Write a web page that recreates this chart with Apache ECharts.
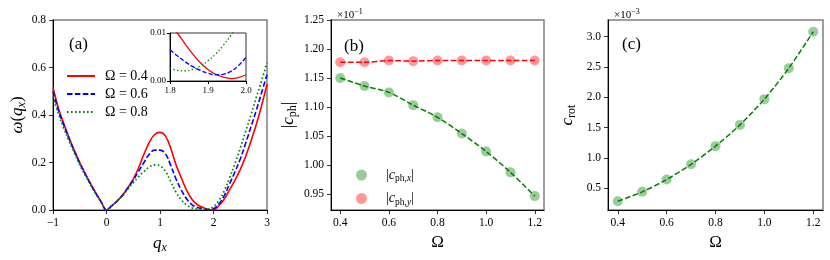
<!DOCTYPE html>
<html><head><meta charset="utf-8">
<script src="https://cdn.jsdelivr.net/npm/echarts@6/dist/echarts.min.js"></script>
<style>html,body{margin:0;padding:0;background:#fff}#c{width:830px;height:260px}</style>
</head><body><div id="c"></div><script>
// ---------- data: panel (a) ----------
const qx = [-1.0,-0.9,-0.8,-0.7,-0.6,-0.5,-0.4,-0.3,-0.2,-0.1,0.0,0.1,0.2,0.3,0.4,0.5,0.6,0.7,0.8,0.9,1.0,1.1,1.2,1.3,1.4,1.5,1.6,1.7,1.8,1.9,2.0,2.1,2.2,2.3,2.4,2.5,2.6,2.7,2.8,2.9,3.0];
const omega04 = [0.517,0.43,0.365,0.305,0.25,0.2,0.155,0.112,0.072,0.035,0,0.018,0.038,0.063,0.095,0.13,0.178,0.235,0.285,0.318,0.327,0.312,0.26,0.19,0.135,0.082,0.044,0.022,0.012,0.0024,0.0013,0.018,0.045,0.085,0.125,0.17,0.225,0.29,0.36,0.44,0.53];
const omega06 = [0.50,0.42,0.358,0.3,0.247,0.197,0.152,0.11,0.07,0.034,0,0.018,0.038,0.062,0.093,0.125,0.163,0.2,0.235,0.252,0.252,0.237,0.188,0.13,0.083,0.046,0.022,0.011,0.0065,0.0016,0.0049,0.025,0.06,0.11,0.16,0.215,0.28,0.35,0.42,0.495,0.57];
const omega08 = [0.477,0.405,0.345,0.29,0.24,0.19,0.147,0.106,0.068,0.033,0,0.018,0.037,0.06,0.088,0.115,0.14,0.162,0.181,0.19,0.186,0.164,0.12,0.075,0.042,0.021,0.009,0.004,0.0027,0.0042,0.014,0.04,0.08,0.135,0.195,0.26,0.33,0.4,0.475,0.545,0.62];
const legendA = ['Ω = 0.4','Ω = 0.6','Ω = 0.8'];
// inset
const qInset = [1.80,1.82,1.84,1.86,1.88,1.90,1.92,1.94,1.96,1.98,2.00];
const inset04 = [0.0118,0.0099,0.0077,0.0056,0.0038,0.0024,0.0014,0.0008,0.0005,0.0007,0.0013];
const inset06 = [0.0065,0.0052,0.0040,0.0030,0.0022,0.0016,0.0013,0.0014,0.0020,0.0032,0.0049];
const inset08 = [0.0027,0.0022,0.0021,0.0024,0.0031,0.0042,0.0056,0.0074,0.0095,0.0118,0.0140];
// ---------- data: panel (b) ----------
const OmegaB = [0.4,0.5,0.6,0.7,0.8,0.9,1.0,1.1,1.2];
const cphx = [1.150,1.136,1.125,1.103,1.082,1.054,1.023,0.987,0.946];
const cphy = [1.177,1.177,1.180,1.179,1.180,1.180,1.180,1.180,1.180];
const ticksB = [0.95,1.00,1.05,1.10,1.15,1.20,1.25];
// ---------- data: panel (c) ----------
const OmegaC = [0.4,0.5,0.6,0.7,0.8,0.9,1.0,1.1,1.2];
const crot = [0.29,0.444,0.647,0.897,1.196,1.546,1.97,2.48,3.08];
const ticksC = [0.5,1.0,1.5,2.0,2.5,3.0];
const ticksOmega = [0.4,0.6,0.8,1.0,1.2];

const pairs = (xs, ys) => xs.map((x,i)=>[x, ys[i]]);
const SERIF = 'Liberation Serif';
const GREEN = '#008000', RED = '#ff0000', BLUE = '#0000ff';
const fmtMinus = v => (v<0 ? '\u2212' : '') + Math.abs(v);
const TICKFS = 11.5;

function axisBase(extra){
  return Object.assign({
    type:'value',
    axisLine:{show:true,onZero:false,lineStyle:{color:'#000',width:1}},
    axisTick:{show:true,inside:false,length:4,lineStyle:{color:'#000',width:0.8}},
    axisLabel:{color:'#000',fontFamily:SERIF,fontSize:TICKFS,margin:7},
    splitLine:{show:false}
  }, extra);
}
const lab = (extra) => Object.assign({color:'#000',fontFamily:SERIF,fontSize:TICKFS,margin:7}, extra);
const rich = {
  i:{fontFamily:SERIF,fontStyle:'italic',fontSize:17,color:'#000'},
  n:{fontFamily:SERIF,fontSize:17,color:'#000'},
  s:{fontFamily:SERIF,fontSize:12,color:'#000',padding:[9,0,0,0]},
  si:{fontFamily:SERIF,fontStyle:'italic',fontSize:12,color:'#000',padding:[9,0,0,0]}
};
const richSmall = {
  n:{fontFamily:SERIF,fontSize:14,color:'#000'},
  i:{fontFamily:SERIF,fontStyle:'italic',fontSize:14,color:'#000'},
  s:{fontFamily:SERIF,fontSize:9.5,color:'#000',padding:[7,0,0,0]},
  si:{fontFamily:SERIF,fontStyle:'italic',fontSize:9.5,color:'#000',padding:[7,0,0,0]}
};
const richMult = {
  n:{fontFamily:SERIF,fontSize:11,color:'#000',fontWeight:'normal'},
  p:{fontFamily:SERIF,fontSize:8,color:'#000',fontWeight:'normal',padding:[0,0,6,0]}
};

const dashed = [5.5,2.4];
const option = {
  animation:false,
  backgroundColor:'#fff',
  title:[
    {text:'(a)',left:64,top:31,textStyle:{fontFamily:SERIF,fontSize:17,fontWeight:'normal',color:'#000'}},
    {text:'(b)',left:339,top:33,textStyle:{fontFamily:SERIF,fontSize:17,fontWeight:'normal',color:'#000'}},
    {text:'(c)',left:617,top:31,textStyle:{fontFamily:SERIF,fontSize:17,fontWeight:'normal',color:'#000'}},
    {text:'{n|\u00d710}{p|\u22121}',left:332,top:3,textStyle:{rich:richMult}},
    {text:'{n|\u00d710}{p|\u22123}',left:609,top:3,textStyle:{rich:richMult}}
  ],
  grid:[
    {left:53,top:20,width:214,height:190,show:true,borderColor:'#7f7f7f',borderWidth:1.5,backgroundColor:'transparent'},
    {left:170,top:33,width:76,height:48,show:true,borderColor:'#333',borderWidth:1,backgroundColor:'#fff',z:5},
    {left:331,top:20,width:213,height:190,show:true,borderColor:'#7f7f7f',borderWidth:1.5},
    {left:608,top:20,width:215,height:190,show:true,borderColor:'#7f7f7f',borderWidth:1.5}
  ],
  legend:[
    {data:legendA,left:61,top:64,orient:'vertical',itemWidth:28,itemHeight:12,itemGap:4,
     itemStyle:{opacity:0},
     textStyle:{fontFamily:SERIF,fontSize:14,color:'#000',padding:[0,0,0,5],lineHeight:14}},
    {data:['cx','cy'],left:351,top:163,orient:'vertical',itemWidth:11,itemHeight:11,itemGap:8,
     formatter:n => n==='cx' ? '{n||}{i|c}{s|ph,}{si|x}{n||}' : '{n||}{i|c}{s|ph,}{si|y}{n||}',
     textStyle:{padding:[0,0,0,14],rich:richSmall}}
  ],
  xAxis:[
    axisBase({gridIndex:0,min:-1,max:3,interval:1,axisLabel:lab({formatter:fmtMinus}),
      name:'{i|q}{si|x}',nameLocation:'middle',nameGap:23,nameTextStyle:{rich:rich}}),
    axisBase({gridIndex:1,min:1.8,max:2.0,z:6,axisLabel:lab({fontSize:9,margin:5,customValues:[1.8,1.9,2.0],formatter:v=>v.toFixed(1)}),
      axisTick:{show:true,length:3,customValues:[1.8,1.9,2.0],lineStyle:{color:'#000'}}}),
    axisBase({gridIndex:2,min:0.362,max:1.238,axisLabel:lab({customValues:ticksOmega,formatter:v=>v.toFixed(1)}),
      axisTick:{show:true,length:4,customValues:ticksOmega,lineStyle:{color:'#000',width:0.8}},
      name:'{n|\u03a9}',nameLocation:'middle',nameGap:22,nameTextStyle:{rich:rich}}),
    axisBase({gridIndex:3,min:0.36,max:1.24,axisLabel:lab({customValues:ticksOmega,formatter:v=>v.toFixed(1)}),
      axisTick:{show:true,length:4,customValues:ticksOmega,lineStyle:{color:'#000',width:0.8}},
      name:'{n|\u03a9}',nameLocation:'middle',nameGap:22,nameTextStyle:{rich:rich}})
  ],
  yAxis:[
    axisBase({gridIndex:0,min:0,max:0.8,interval:0.2,axisLabel:lab({formatter:v=>v.toFixed(1)}),
      name:'{i|\u03c9}{n|(}{i|q}{si|x}{n|)}',nameLocation:'middle',nameGap:25,nameTextStyle:{rich:rich}}),
    axisBase({gridIndex:1,min:0,max:0.01,z:6,axisLabel:lab({fontSize:9,margin:4,customValues:[0,0.01],formatter:v=>v.toFixed(2)}),
      axisTick:{show:true,length:3,customValues:[0,0.01],lineStyle:{color:'#000'}}}),
    axisBase({gridIndex:2,min:0.922,max:1.25,axisLabel:lab({customValues:ticksB,formatter:v=>v.toFixed(2)}),
      axisTick:{show:true,length:4,customValues:ticksB,lineStyle:{color:'#000',width:0.8}},
      name:'{n||}{i|c}{s|ph}{n||}',nameLocation:'middle',nameGap:32,nameTextStyle:{rich:rich}}),
    axisBase({gridIndex:3,min:0.145,max:3.273,axisLabel:lab({customValues:ticksC,formatter:v=>v.toFixed(1)}),
      axisTick:{show:true,length:4,customValues:ticksC,lineStyle:{color:'#000',width:0.8}},
      name:'{i|c}{s|rot}',nameLocation:'middle',nameGap:30,nameTextStyle:{rich:rich}})
  ],
  series:[
    {name:legendA[0],type:'line',xAxisIndex:0,yAxisIndex:0,data:pairs(qx,omega04),symbol:'none',smooth:0.4,clip:true,
      lineStyle:{color:RED,width:1.6,type:'solid'},itemStyle:{color:RED},z:3},
    {name:legendA[1],type:'line',xAxisIndex:0,yAxisIndex:0,data:pairs(qx,omega06),symbol:'none',smooth:0.4,clip:true,
      lineStyle:{color:BLUE,width:1.6,type:dashed},itemStyle:{color:BLUE},z:3},
    {name:legendA[2],type:'line',xAxisIndex:0,yAxisIndex:0,data:pairs(qx,omega08),symbol:'none',smooth:0.4,clip:true,
      lineStyle:{color:GREEN,width:1.7,type:[1.6,2.4]},itemStyle:{color:GREEN},z:3},
    {type:'line',xAxisIndex:1,yAxisIndex:1,data:pairs(qInset,inset04),symbol:'none',smooth:0.4,clip:true,
      lineStyle:{color:RED,width:1.3,type:'solid'},z:7},
    {type:'line',xAxisIndex:1,yAxisIndex:1,data:pairs(qInset,inset06),symbol:'none',smooth:0.4,clip:true,
      lineStyle:{color:BLUE,width:1.3,type:[4.5,2]},z:7},
    {type:'line',xAxisIndex:1,yAxisIndex:1,data:pairs(qInset,inset08),symbol:'none',smooth:0.4,clip:true,
      lineStyle:{color:GREEN,width:1.3,type:[1.4,2.3]},z:7},
    {name:'cx',type:'scatter',xAxisIndex:2,yAxisIndex:2,data:pairs(OmegaB,cphx),symbol:'circle',symbolSize:10,
      itemStyle:{color:'rgba(0,128,0,0.5)'},z:2},
    {name:'cy',type:'scatter',xAxisIndex:2,yAxisIndex:2,data:pairs(OmegaB,cphy),symbol:'circle',symbolSize:10,
      itemStyle:{color:'rgba(255,0,0,0.5)'},z:2},
    {type:'line',xAxisIndex:2,yAxisIndex:2,data:pairs(OmegaB,cphx),symbol:'none',smooth:0.3,
      lineStyle:{color:GREEN,width:1.5,type:dashed},z:3},
    {type:'line',xAxisIndex:2,yAxisIndex:2,data:pairs(OmegaB,cphy),symbol:'none',smooth:0.3,
      lineStyle:{color:RED,width:1.5,type:dashed},z:3},
    {type:'scatter',xAxisIndex:3,yAxisIndex:3,data:pairs(OmegaC,crot),symbol:'circle',symbolSize:10,
      itemStyle:{color:'rgba(0,128,0,0.5)'},z:2},
    {type:'line',xAxisIndex:3,yAxisIndex:3,data:pairs(OmegaC,crot),symbol:'none',smooth:0.3,
      lineStyle:{color:GREEN,width:1.5,type:dashed},z:3}
  ]
};
const chart = echarts.init(document.getElementById('c'),null,{renderer:'canvas'});
chart.setOption(option);
</script></body></html>
